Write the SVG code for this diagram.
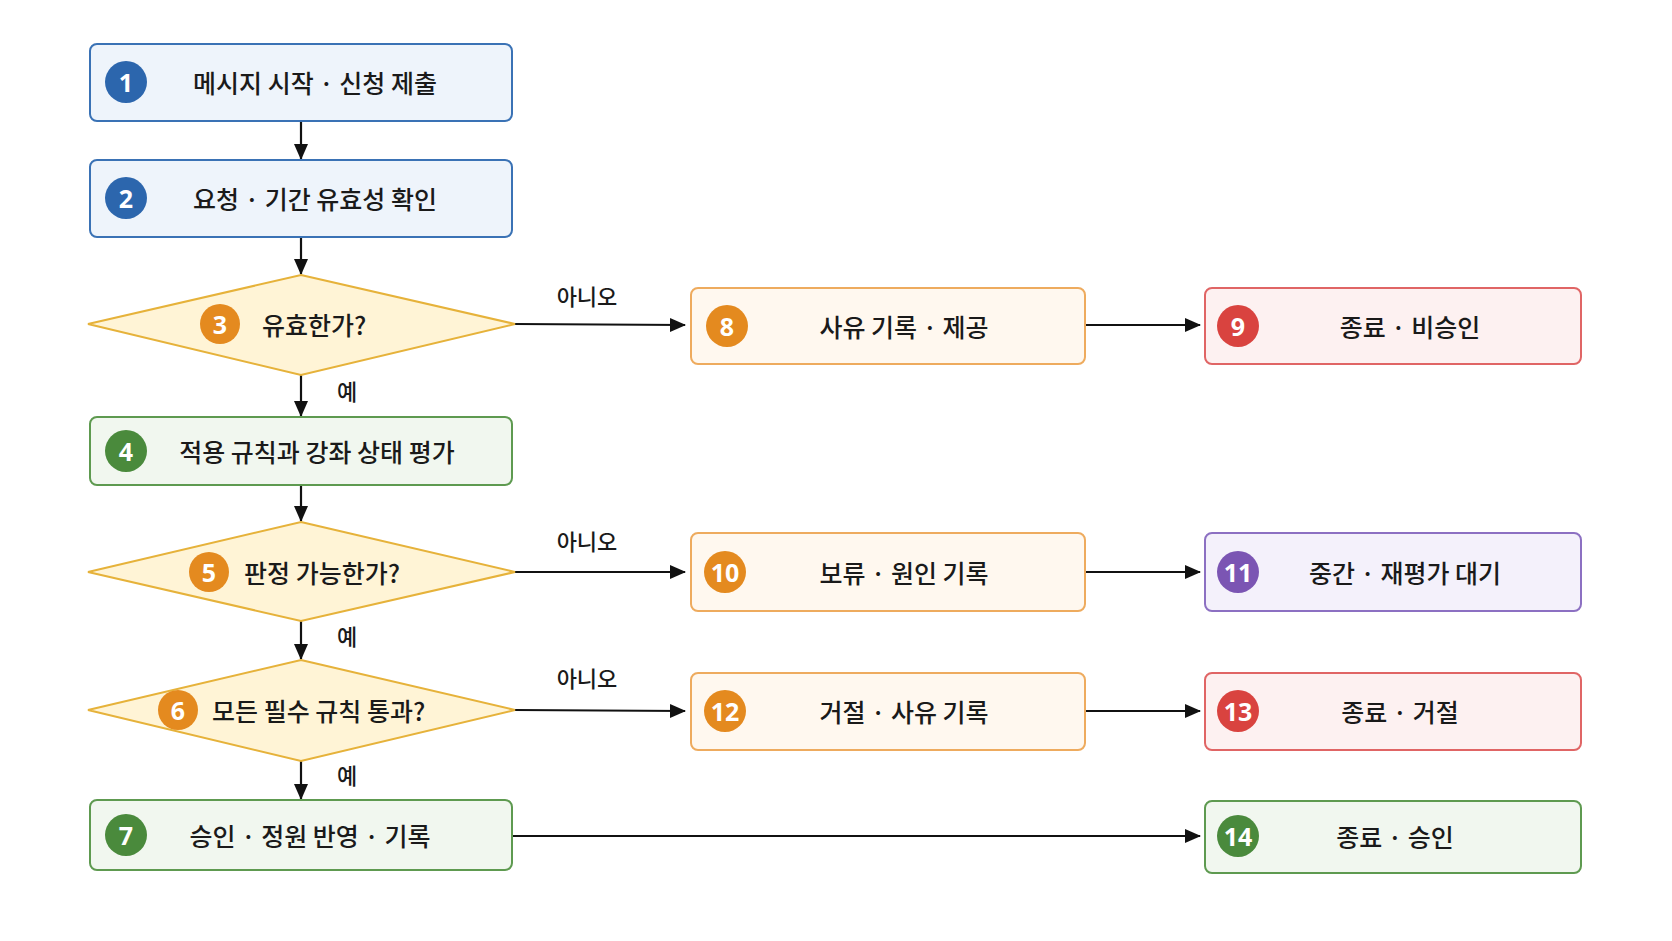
<svg xmlns="http://www.w3.org/2000/svg" width="1672" height="941" viewBox="0 0 1672 941">
<defs>
<marker id="ah" markerWidth="16" markerHeight="16" refX="15" refY="8" orient="auto" markerUnits="userSpaceOnUse"><path d="M0,1 L16,8 L0,15 z" fill="#111"/></marker>
<style>
text{font-family:"Noto Sans CJK KR","Noto Sans",sans-serif;fill:#1a1a1a}
.t{font-size:25px;font-weight:500;text-anchor:middle;dominant-baseline:central}
.ts{font-size:25px;font-weight:500;dominant-baseline:central}
.l{font-size:22px;font-weight:500;text-anchor:middle;dominant-baseline:central}
.n{font-size:25px;font-weight:700;fill:#fff;text-anchor:middle;dominant-baseline:central;font-family:"Noto Sans",sans-serif}
.blue{fill:#eef4fb;stroke:#3a72b5;stroke-width:2}
.yel{fill:#fff4d6;stroke:#e6b23a;stroke-width:2}
.org{fill:#fff8ef;stroke:#eeab5e;stroke-width:2}
.red{fill:#fdf1f1;stroke:#e06565;stroke-width:2}
.pur{fill:#f4f1fb;stroke:#8c70c2;stroke-width:2}
.grn{fill:#f1f7ef;stroke:#5e9a50;stroke-width:2}
.c{stroke:#111;stroke-width:2.2;fill:none;marker-end:url(#ah)}
</style>
</defs>
<rect width="1672" height="941" fill="#fff"/>
<g id="connectors">
<line class="c" x1="301" y1="121" x2="301" y2="159"/>
<line class="c" x1="301" y1="237" x2="301" y2="274"/>
<line class="c" x1="301" y1="375" x2="301" y2="416"/>
<line class="c" x1="301" y1="485" x2="301" y2="521"/>
<line class="c" x1="301" y1="621" x2="301" y2="659"/>
<line class="c" x1="301" y1="761" x2="301" y2="799"/>
<line class="c" x1="515" y1="324" x2="685" y2="325"/>
<line class="c" x1="515" y1="572" x2="685" y2="572"/>
<line class="c" x1="515" y1="710" x2="685" y2="711"/>
<line class="c" x1="1085" y1="325" x2="1200" y2="325"/>
<line class="c" x1="1085" y1="572" x2="1200" y2="572"/>
<line class="c" x1="1085" y1="711" x2="1200" y2="711"/>
<line class="c" x1="512" y1="836" x2="1200" y2="836"/>
<text class="l" x="587" y="295">아니오</text>
<text class="l" x="587" y="540">아니오</text>
<text class="l" x="587" y="677">아니오</text>
<text class="l" x="347" y="390">예</text>
<text class="l" x="347" y="635">예</text>
<text class="l" x="347" y="774">예</text>
</g>
<g id="n1"><rect class="blue" x="90" y="44" width="422" height="77" rx="7"/><circle cx="126" cy="82" r="21" fill="#2c66ad"/><text class="n" x="126" y="82">1</text><text class="t" x="315" y="82">메시지 시작 · 신청 제출</text></g>
<g id="n2"><rect class="blue" x="90" y="160" width="422" height="77" rx="7"/><circle cx="126" cy="198" r="21" fill="#2c66ad"/><text class="n" x="126" y="198">2</text><text class="t" x="315" y="198">요청 · 기간 유효성 확인</text></g>
<g id="n3"><polygon class="yel" points="301,275 515,324 301,375 88,324"/><circle cx="220" cy="324" r="20" fill="#e48a1f"/><text class="n" x="220" y="324">3</text><text class="ts" x="262" y="324">유효한가?</text></g>
<g id="n4"><rect class="grn" x="90" y="417" width="422" height="68" rx="7"/><circle cx="126" cy="451" r="21" fill="#4a8a3c"/><text class="n" x="126" y="451">4</text><text class="t" x="317" y="451">적용 규칙과 강좌 상태 평가</text></g>
<g id="n5"><polygon class="yel" points="301,522 515,572 301,621 88,572"/><circle cx="209" cy="572" r="20" fill="#e48a1f"/><text class="n" x="209" y="572">5</text><text class="ts" x="244" y="572">판정 가능한가?</text></g>
<g id="n6"><polygon class="yel" points="301,660 515,710 301,761 88,710"/><circle cx="178" cy="710" r="20" fill="#e48a1f"/><text class="n" x="178" y="710">6</text><text class="ts" x="212" y="710">모든 필수 규칙 통과?</text></g>
<g id="n7"><rect class="grn" x="90" y="800" width="422" height="70" rx="7"/><circle cx="126" cy="835" r="21" fill="#4a8a3c"/><text class="n" x="126" y="835">7</text><text class="t" x="310" y="835">승인 · 정원 반영 · 기록</text></g>
<g id="n8"><rect class="org" x="691" y="288" width="394" height="76" rx="7"/><circle cx="727" cy="326" r="21" fill="#e48a1f"/><text class="n" x="727" y="326">8</text><text class="t" x="904" y="326">사유 기록 · 제공</text></g>
<g id="n9"><rect class="red" x="1205" y="288" width="376" height="76" rx="7"/><circle cx="1238" cy="326" r="21" fill="#d9433f"/><text class="n" x="1238" y="326">9</text><text class="t" x="1410" y="326">종료 · 비승인</text></g>
<g id="n10"><rect class="org" x="691" y="533" width="394" height="78" rx="7"/><circle cx="725" cy="572" r="21" fill="#e48a1f"/><text class="n" x="725" y="572">10</text><text class="t" x="904" y="572">보류 · 원인 기록</text></g>
<g id="n11"><rect class="pur" x="1205" y="533" width="376" height="78" rx="7"/><circle cx="1238" cy="572" r="21" fill="#7b55b3"/><text class="n" x="1238" y="572">11</text><text class="t" x="1405" y="572">중간 · 재평가 대기</text></g>
<g id="n12"><rect class="org" x="691" y="673" width="394" height="77" rx="7"/><circle cx="725" cy="711" r="21" fill="#e48a1f"/><text class="n" x="725" y="711">12</text><text class="t" x="904" y="711">거절 · 사유 기록</text></g>
<g id="n13"><rect class="red" x="1205" y="673" width="376" height="77" rx="7"/><circle cx="1238" cy="711" r="21" fill="#d9433f"/><text class="n" x="1238" y="711">13</text><text class="t" x="1400" y="711">종료 · 거절</text></g>
<g id="n14"><rect class="grn" x="1205" y="801" width="376" height="72" rx="7"/><circle cx="1238" cy="836" r="21" fill="#4a8a3c"/><text class="n" x="1238" y="836">14</text><text class="t" x="1395" y="836">종료 · 승인</text></g>
</svg>
